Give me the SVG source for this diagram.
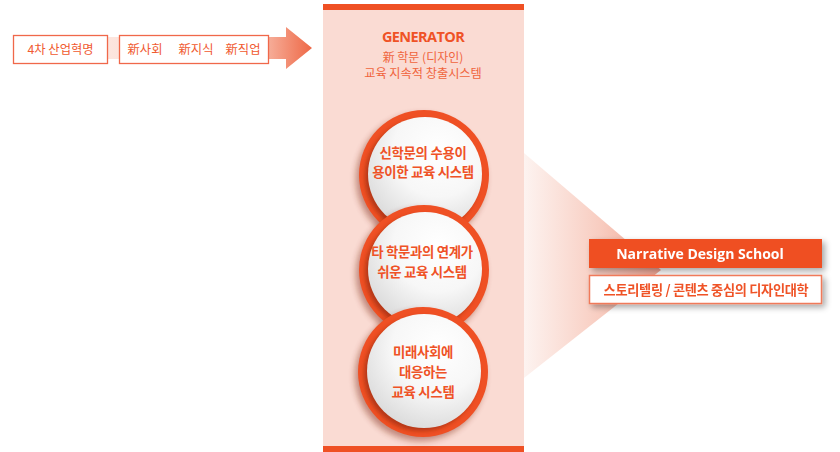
<svg xmlns="http://www.w3.org/2000/svg" width="840" height="452" viewBox="0 0 840 452">
<style>
.kr{font-family:"Noto Sans CJK KR","Noto Sans",sans-serif}
.lat{font-family:"Open Sans","Noto Sans CJK KR",sans-serif}
.box{fill:#fff;stroke:#f0684a;stroke-width:1.3}
.boxt{font-size:12.3px;fill:#f05a30;text-anchor:middle}
.ct{font-size:13.4px;font-weight:bold;fill:#ef5226;text-anchor:middle;letter-spacing:-0.3px}
.ring{fill:#ef5024}
.disc{fill:url(#disc)}
</style>
<defs>
<linearGradient id="arrowG" gradientUnits="userSpaceOnUse" x1="100" y1="0" x2="312" y2="0">
<stop offset="0" stop-color="#fde7e0"/>
<stop offset="0.6" stop-color="#fad2c6"/>
<stop offset="0.8" stop-color="#f6ab96"/>
<stop offset="1" stop-color="#ee6846"/>
</linearGradient>
<linearGradient id="funnelG" gradientUnits="userSpaceOnUse" x1="524" y1="0" x2="661" y2="0">
<stop offset="0" stop-color="#fdf3f0"/>
<stop offset="0.55" stop-color="#f8cdc1"/>
<stop offset="1" stop-color="#f0a290"/>
</linearGradient>
<radialGradient id="disc" cx="0.62" cy="0.3" r="0.8">
<stop offset="0" stop-color="#ffffff"/>
<stop offset="0.5" stop-color="#f7f7f7"/>
<stop offset="1" stop-color="#d6d6d6"/>
</radialGradient>
<filter id="blur3" x="-30%" y="-30%" width="160%" height="160%"><feGaussianBlur stdDeviation="3"/></filter>
<filter id="blur2" x="-30%" y="-30%" width="160%" height="160%"><feGaussianBlur stdDeviation="2.2"/></filter>
<filter id="drop" x="-10%" y="-30%" width="125%" height="180%">
<feGaussianBlur in="SourceAlpha" stdDeviation="3"/>
<feOffset dx="3" dy="3" result="b"/>
<feComponentTransfer><feFuncA type="linear" slope="0.35"/></feComponentTransfer>
<feMerge><feMergeNode/><feMergeNode in="SourceGraphic"/></feMerge>
</filter>
</defs>

<g id="connectors">
<polygon id="flow-arrow" points="100,37 286,37 286,27 312,48 286,69 286,59 100,59" fill="url(#arrowG)"/>
<polygon id="funnel" points="524,153 661,270 524,378" fill="url(#funnelG)"/>
</g>

<g id="node-industry">
<rect class="box" x="13.5" y="35.5" width="94" height="28"/>
<text class="kr boxt" x="60.5" y="54">4차 산업혁명</text>
</g>

<g id="node-new">
<rect class="box" x="119.5" y="35.5" width="149" height="28"/>
<text class="kr boxt" x="145" y="54">新사회</text>
<text class="kr boxt" x="196" y="54">新지식</text>
<text class="kr boxt" x="243" y="54">新직업</text>
</g>

<g id="generator">
<rect x="323" y="4" width="201" height="448" fill="#fadbd3"/>
<rect x="323" y="4" width="201" height="6" fill="#ef5024"/>
<rect x="323" y="446" width="201" height="6" fill="#ef5024"/>
<text class="lat" x="423" y="42" font-size="14.5" font-weight="bold" fill="#ef5226" text-anchor="middle" letter-spacing="-0.6">GENERATOR</text>
<text class="kr" x="423" y="62" font-size="12" fill="#f0643c" text-anchor="middle">新 학문 (디자인)</text>
<text class="kr" x="423" y="78" font-size="12.2" fill="#f0643c" text-anchor="middle">교육 지속적 창출시스템</text>
</g>

<g id="circle-1">
<circle cx="421" cy="179" r="65" fill="#7a2410" opacity="0.45" filter="url(#blur3)"/>
<circle class="ring" cx="424" cy="175" r="65"/>
<circle cx="422" cy="177" r="57" fill="#8e2810" opacity="0.6" filter="url(#blur2)"/>
<circle class="disc" cx="425" cy="174" r="57"/>
<text class="kr ct" x="423" y="158">신학문의 수용이</text>
<text class="kr ct" x="423" y="177">용이한 교육 시스템</text>
</g>

<g id="circle-2">
<circle cx="421" cy="274" r="65" fill="#7a2410" opacity="0.45" filter="url(#blur3)"/>
<circle class="ring" cx="424" cy="270" r="65"/>
<circle cx="422" cy="272" r="57" fill="#8e2810" opacity="0.6" filter="url(#blur2)"/>
<circle class="disc" cx="425" cy="269" r="57"/>
<text class="kr ct" x="422" y="257">타 학문과의 연계가</text>
<text class="kr ct" x="422" y="277">쉬운 교육 시스템</text>
</g>

<g id="circle-3">
<circle cx="420" cy="376" r="65" fill="#7a2410" opacity="0.45" filter="url(#blur3)"/>
<circle class="ring" cx="423" cy="372" r="65"/>
<circle cx="421" cy="374" r="57" fill="#8e2810" opacity="0.6" filter="url(#blur2)"/>
<circle class="disc" cx="424" cy="371" r="57"/>
<text class="kr ct" x="423" y="357">미래사회에</text>
<text class="kr ct" x="423" y="377">대응하는</text>
<text class="kr ct" x="423" y="397">교육 시스템</text>
</g>

<g id="node-school" filter="url(#drop)">
<rect x="589" y="239" width="233" height="29" fill="#ef5024"/>
<text class="lat" x="700" y="259" font-size="14" font-weight="bold" fill="#ffffff" text-anchor="middle">Narrative Design School</text>
</g>

<g id="node-subtitle" filter="url(#drop)">
<rect x="589.5" y="275.5" width="232" height="28" fill="#ffffff" stroke="#f07a5a" stroke-width="1.5"/>
<text class="kr" x="706" y="294.5" font-size="13.2" font-weight="bold" fill="#ef5226" text-anchor="middle" letter-spacing="-0.3">스토리텔링 / 콘텐츠 중심의 디자인대학</text>
</g>
</svg>
